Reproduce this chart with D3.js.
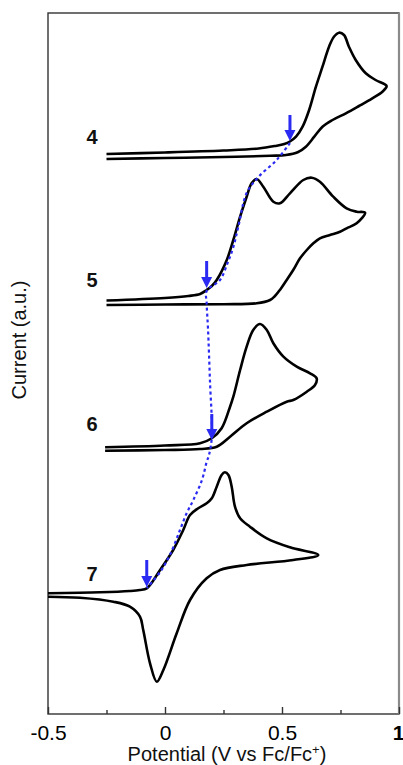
<!DOCTYPE html>
<html>
<head>
<meta charset="utf-8">
<script src="https://cdn.jsdelivr.net/npm/d3@7"></script>
<style>
  body { margin: 0; background: #fff; }
  text { font-family: "Liberation Sans", Arial, sans-serif; }
</style>
</head>
<body>
<svg></svg>
<script>
const width = 403;
const height = 765;
const marginLeft = 48;
const marginRight = 4;
const marginTop = 13;
const marginBottom = 51;

// potential (V vs Fc/Fc+), current (a.u., stacked)
const cv4 = [
  [-0.25, 56.0], [0.0, 56.15], [0.25, 56.35], [0.40, 56.55], [0.47, 56.8], [0.51, 57.0],
  [0.534, 57.25], [0.560, 57.73], [0.588, 58.73], [0.616, 60.4], [0.645, 62.73], [0.673, 64.73],
  [0.701, 66.73], [0.722, 67.73], [0.744, 68.13], [0.765, 67.9], [0.786, 66.73], [0.815, 65.4],
  [0.858, 64.07], [0.900, 63.4], [0.947, 62.8],
  [0.929, 62.23], [0.886, 61.57], [0.829, 60.8], [0.773, 60.07], [0.716, 59.4], [0.673, 58.73],
  [0.638, 57.73], [0.602, 56.73], [0.567, 56.17], [0.517, 55.9], [0.45, 55.82], [0.25, 55.7],
  [0.0, 55.6], [-0.25, 55.5]
];

const cv5 = [
  [-0.25, 41.35], [0.0, 41.6], [0.10, 41.8], [0.15, 42.0], [0.178, 42.4], [0.200, 42.8],
  [0.221, 43.4], [0.264, 45.4], [0.292, 47.4], [0.321, 49.73], [0.349, 51.73], [0.370, 53.07],
  [0.392, 53.5], [0.420, 52.73], [0.463, 51.23], [0.491, 51.07], [0.534, 52.07], [0.591, 53.4],
  [0.627, 53.63], [0.662, 53.23], [0.719, 51.73], [0.776, 50.57], [0.819, 50.23], [0.855, 50.13],
  [0.819, 49.07], [0.776, 48.57], [0.748, 48.23], [0.705, 47.9], [0.662, 47.57], [0.634, 47.07],
  [0.606, 46.4], [0.577, 45.57], [0.548, 44.4], [0.520, 43.4], [0.491, 42.4], [0.470, 41.8],
  [0.449, 41.4], [0.392, 41.07], [0.25, 40.98], [0.0, 40.95], [-0.25, 40.9]
];

const cv6 = [
  [-0.256, 26.67], [0.0, 26.85], [0.150, 27.07], [0.200, 27.57], [0.242, 28.57], [0.278, 30.73],
  [0.292, 31.73], [0.321, 34.4], [0.349, 36.73], [0.377, 38.4], [0.406, 39.0], [0.435, 38.4],
  [0.463, 37.07], [0.506, 35.73], [0.563, 34.73], [0.620, 34.07], [0.648, 33.57],
  [0.641, 32.9], [0.606, 32.23], [0.548, 31.4], [0.520, 31.23], [0.435, 30.23], [0.349, 29.07],
  [0.278, 27.73], [0.221, 26.73], [0.150, 26.5], [0.0, 26.4], [-0.256, 26.33]
];

const cv7 = [
  [-0.5, 12.07], [-0.278, 12.17], [-0.150, 12.3], [-0.107, 12.4], [-0.078, 12.57], [-0.021, 14.4],
  [0.035, 16.4], [0.078, 18.4], [0.107, 19.9], [0.142, 20.57], [0.178, 21.07], [0.200, 21.57],
  [0.221, 22.73], [0.242, 23.9], [0.256, 24.17], [0.271, 23.9], [0.285, 22.73], [0.299, 20.73],
  [0.321, 19.57], [0.363, 18.73], [0.435, 17.57], [0.534, 16.67], [0.655, 15.9],
  [0.548, 15.4], [0.349, 14.9], [0.235, 14.4], [0.178, 13.57], [0.107, 11.4], [0.050, 8.07],
  [-0.007, 4.4], [-0.035, 3.23], [-0.064, 5.07], [-0.093, 8.4], [-0.107, 9.73], [-0.150, 10.73],
  [-0.221, 11.23], [-0.363, 11.63], [-0.5, 11.73]
];

// onset guide (dotted) and arrows
const onsetLine = [
  [0.534, 57.1], [0.477, 55.4], [0.399, 53.7], [0.349, 52.1], [0.313, 48.7], [0.292, 46.7],
  [0.269, 45.2], [0.235, 43.4], [0.178, 42.3], [0.178, 41.1], [0.184, 38.4], [0.192, 33.4],
  [0.200, 27.7], [0.188, 25.9], [0.178, 25.2], [0.158, 23.4], [0.121, 21.4], [0.093, 20.1],
  [0.064, 18.4], [0.021, 15.9], [-0.021, 14.2], [-0.078, 12.6]
];
const arrowX = [0.534, 0.178, 0.200, -0.078];
const arrowTop = [59.9, 45.3, 30.0, 15.4];
const arrowTip = [57.3, 42.6, 27.4, 12.7];

const labels = ["4", "5", "6", "7"];
const labelY = [57.73, 43.4, 29.07, 14.07];
const labelX = -0.312;

const majorTicks = [-0.5, 0, 0.5, 1];
const minorTicks = [-0.25, 0.25, 0.75];
const tickLabels = ["-0.5", "0", "0.5", "1"];

const blue = "#2a2af2";

let svg = d3.select("svg")
  .attr("width", width)
  .attr("height", height);

let x = d3.scaleLinear()
  .domain([-0.5, 1.0])
  .range([marginLeft, width - marginRight]);

let y = d3.scaleLinear()
  .domain([0, 70])
  .range([height - marginBottom, height - marginBottom - 700]);

// frame
svg.append("rect")
  .attr("x", marginLeft)
  .attr("y", marginTop)
  .attr("width", width - marginRight - marginLeft)
  .attr("height", height - marginBottom - marginTop)
  .attr("fill", "none")
  .attr("stroke", "#333")
  .attr("stroke-width", 1.4);

svg.append("line")
  .attr("x1", width - marginRight).attr("x2", width - marginRight)
  .attr("y1", marginTop).attr("y2", height - marginBottom)
  .attr("stroke", "#8a8a8a")
  .attr("stroke-width", 2.2);

// x axis, ticks pointing inward
let gx = svg.append("g")
  .attr("transform", `translate(0, ${height - marginBottom})`)
  .call(d3.axisBottom(x)
    .tickValues(majorTicks)
    .tickSize(-7)
    .tickPadding(11)
    .tickFormat((d, i) => tickLabels[i]));

gx.select(".domain").remove();
gx.selectAll(".tick line").attr("stroke", "#333").attr("stroke-width", 1.4);
gx.selectAll("text")
  .attr("fill", "#000")
  .style("font-size", "21px")
  .style("font-family", "Liberation Sans, Arial, sans-serif");
// last label sits on the right edge, keep it inside the page
gx.selectAll("text").filter((d) => d === 1)
  .style("font-weight", "bold")
  .attr("text-anchor", "end")
  .attr("x", 5);

let gm = svg.append("g")
  .attr("transform", `translate(0, ${height - marginBottom})`)
  .call(d3.axisBottom(x)
    .tickValues(minorTicks)
    .tickSize(-4)
    .tickFormat(""));
gm.select(".domain").remove();
gm.selectAll(".tick line").attr("stroke", "#333").attr("stroke-width", 1.4);

// axis titles
let xt = svg.append("text")
  .attr("x", 227)
  .attr("y", 761)
  .attr("text-anchor", "middle")
  .style("font-size", "20px")
  .attr("fill", "#111");
xt.append("tspan").text("Potential (V vs Fc/Fc");
xt.append("tspan").attr("dy", -7).style("font-size", "13px").text("+");
xt.append("tspan").attr("dy", 7).text(")");

svg.append("text")
  .attr("transform", "translate(26, 340) rotate(-90)")
  .attr("text-anchor", "middle")
  .style("font-size", "20px")
  .attr("fill", "#111")
  .text("Current (a.u.)");

// curves
const line = d3.line()
  .x(d => x(d[0]))
  .y(d => y(d[1]))
  .curve(d3.curveCatmullRom.alpha(0.5));

for (let cv of [cv4, cv5, cv6, cv7]) {
  svg.append("path")
    .datum(cv)
    .attr("fill", "none")
    .attr("stroke", "#000")
    .attr("stroke-width", 2.6)
    .attr("stroke-linejoin", "round")
    .attr("d", line);
}

// dotted onset guide
svg.append("path")
  .datum(onsetLine)
  .attr("fill", "none")
  .attr("stroke", blue)
  .attr("stroke-width", 2.2)
  .attr("stroke-dasharray", "3,3")
  .attr("d", line);

// arrows
const headLen = 11;
const headHalf = 5.5;
arrowX.forEach((v, i) => {
  const px = x(v);
  const top = y(arrowTop[i]);
  const tip = y(arrowTip[i]);
  svg.append("line")
    .attr("x1", px).attr("x2", px)
    .attr("y1", top).attr("y2", tip - headLen + 1)
    .attr("stroke", blue)
    .attr("stroke-width", 3);
  svg.append("path")
    .attr("d", `M${px - headHalf},${tip - headLen} L${px + headHalf},${tip - headLen} L${px},${tip} Z`)
    .attr("fill", blue);
});

// compound labels
svg.selectAll(".lbl")
  .data(labels)
  .enter()
  .append("text")
  .attr("x", x(labelX))
  .attr("y", (d, i) => y(labelY[i]))
  .attr("dy", "0.36em")
  .attr("text-anchor", "middle")
  .style("font-size", "20px")
  .style("font-weight", "bold")
  .attr("fill", "#111")
  .text(d => d);
</script>
</body>
</html>
